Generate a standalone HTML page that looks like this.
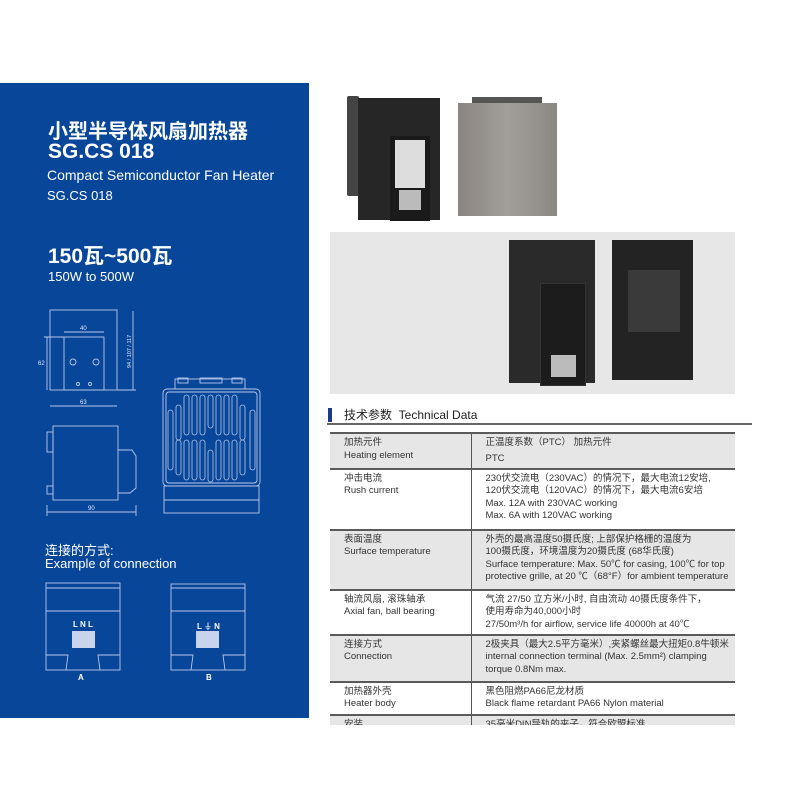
<!DOCTYPE html>
<html><head><meta charset="utf-8"><style>
*{margin:0;padding:0;box-sizing:border-box}
body{width:800px;height:800px;background:#fff;position:relative;overflow:hidden;font-family:"Liberation Sans","Noto Sans CJK SC",sans-serif}
.abs{position:absolute;white-space:nowrap}
#blue{position:absolute;left:0;top:83px;width:309px;height:635px;background:#08469a}
.w{color:#fff}
table{border-collapse:collapse;position:absolute;left:330px;top:432px;width:405px;font-size:9.5px;color:#333;line-height:12.5px}
td{vertical-align:top;padding:3px 0 0 14px;border-top:2px solid #5a5a5a}
td.l{width:141px;border-right:1.5px solid #555}
td.r{padding-left:14px}
tr.g td{background:#e6e6e6}
</style></head><body>
<div id="blue"></div>
<div class="abs w" style="left:48px;top:115px;font-size:20px;font-weight:bold">小型半导体风扇加热器</div>
<div class="abs w" style="left:48px;top:140px;font-size:21px;font-weight:bold">SG.CS 018</div>
<div class="abs w" style="left:47px;top:167px;font-size:14px">Compact Semiconductor Fan Heater</div>
<div class="abs w" style="left:47px;top:188px;font-size:13px">SG.CS 018</div>
<div class="abs w" style="left:48px;top:240px;font-size:21px;font-weight:bold">150瓦~500瓦</div>
<div class="abs w" style="left:48px;top:269px;font-size:13px">150W to 500W</div>
<svg class="abs" style="left:0;top:0" width="310" height="720" viewBox="0 0 310 720" fill="none" stroke="#b8c8e8" stroke-width="0.9">
<rect x="50" y="310" width="67" height="80"/>
<rect x="64" y="337" width="40" height="53"/>
<line x1="64" y1="332" x2="104" y2="332"/><text x="80" y="330" fill="#dfe7f5" stroke="none" font-size="6">40</text>
<line x1="47" y1="337" x2="47" y2="390"/><line x1="44" y1="337" x2="64" y2="337"/><text x="38" y="365" fill="#dfe7f5" stroke="none" font-size="6">62</text>
<line x1="133" y1="311" x2="133" y2="390"/><line x1="117" y1="390" x2="136" y2="390"/>
<text x="0" y="0" fill="#dfe7f5" stroke="none" font-size="5.5" transform="translate(131,368) rotate(-90)">94 / 107 / 117</text>
<line x1="50" y1="406" x2="117" y2="406"/><text x="80" y="404" fill="#dfe7f5" stroke="none" font-size="6">63</text>
<circle cx="73" cy="362" r="3"/><circle cx="96" cy="362" r="3"/><circle cx="78" cy="384" r="1.5"/><circle cx="90" cy="384" r="1.5"/>
<rect x="53" y="426" width="65" height="74"/><rect x="47" y="432" width="6" height="20"/><rect x="47" y="486" width="6" height="8"/>
<path d="M118 450 H132 L136 456 V488 L130 493 H118"/>
<line x1="47" y1="512" x2="136" y2="512"/><line x1="47" y1="505" x2="47" y2="516"/><line x1="136" y1="505" x2="136" y2="516"/>
<text x="88" y="510" fill="#dfe7f5" stroke="none" font-size="6">90</text>
<rect x="163" y="389" width="97" height="97" rx="4"/>
<rect x="166" y="392" width="91" height="91" rx="3"/>
<rect x="175" y="379" width="70" height="10"/><rect x="178" y="378" width="10" height="5"/><rect x="200" y="378" width="22" height="5"/><rect x="232" y="378" width="10" height="5"/>
<rect x="164" y="486" width="95" height="27"/><line x1="164" y1="500" x2="259" y2="500"/>
<g stroke-width="0.8">
<rect x="176" y="405" width="5" height="35" rx="2.5"/><rect x="184" y="395" width="5" height="40" rx="2.5"/><rect x="192" y="395" width="5" height="40" rx="2.5"/><rect x="200" y="395" width="5" height="40" rx="2.5"/><rect x="208" y="395" width="5" height="33" rx="2.5"/><rect x="216" y="395" width="5" height="40" rx="2.5"/><rect x="224" y="395" width="5" height="40" rx="2.5"/><rect x="232" y="395" width="5" height="40" rx="2.5"/><rect x="240" y="405" width="5" height="35" rx="2.5"/><rect x="250" y="410" width="5" height="60" rx="2.5"/><rect x="168" y="410" width="5" height="60" rx="2.5"/>
<rect x="176" y="440" width="5" height="35" rx="2.5"/><rect x="184" y="440" width="5" height="40" rx="2.5"/><rect x="192" y="440" width="5" height="40" rx="2.5"/><rect x="200" y="440" width="5" height="40" rx="2.5"/><rect x="208" y="450" width="5" height="32" rx="2.5"/><rect x="216" y="440" width="5" height="40" rx="2.5"/><rect x="224" y="440" width="5" height="40" rx="2.5"/><rect x="232" y="440" width="5" height="40" rx="2.5"/><rect x="240" y="440" width="5" height="35" rx="2.5"/>
</g>
<rect x="46" y="583" width="74" height="87"/><line x1="46" y1="588" x2="120" y2="588"/><line x1="46" y1="611" x2="120" y2="611"/>
<path d="M46 655 H68 L66 670 M120 655 H98 L100 670"/>
<rect x="171" y="584" width="74" height="86"/><line x1="171" y1="588" x2="245" y2="588"/><line x1="171" y1="611" x2="245" y2="611"/>
<path d="M171 655 H193 L191 670 M245 655 H223 L225 670"/>
<g fill="#c8d4ee" stroke="none"><rect x="72" y="631" width="23" height="17"/><rect x="196" y="631" width="23" height="17"/></g>
</svg>
<div class="abs w" style="left:73px;top:620px;font-size:8px;font-weight:bold">L N L</div>
<div class="abs w" style="left:197px;top:621px;font-size:8px;font-weight:bold">L ⏚ N</div>
<div class="abs w" style="left:78px;top:673px;font-size:8px;font-weight:bold">A</div>
<div class="abs w" style="left:206px;top:673px;font-size:8px;font-weight:bold">B</div>
<div class="abs w" style="left:45px;top:544px;font-size:13px;line-height:13px">连接的方式:<br>Example of connection</div>
<!-- photos -->
<div class="abs" style="left:347px;top:96px;width:12px;height:100px;background:#444;border-radius:2px"></div>
<div class="abs" style="left:358px;top:98px;width:82px;height:122px;background:#262626"></div>
<div class="abs" style="left:390px;top:136px;width:40px;height:85px;background:#1a1a1a"></div>
<div class="abs" style="left:395px;top:140px;width:30px;height:48px;background:#ddd"></div>
<div class="abs" style="left:399px;top:190px;width:22px;height:20px;background:#bbb"></div>
<div class="abs" style="left:472px;top:97px;width:70px;height:8px;background:#555"></div>
<div class="abs" style="left:458px;top:103px;width:99px;height:113px;background:linear-gradient(90deg,#8a8580,#a29e99,#8c8883)"></div>
<div class="abs" style="left:330px;top:232px;width:405px;height:162px;background:#e7e7e7"></div>
<div class="abs" style="left:509px;top:240px;width:86px;height:143px;background:#2a2a2a"></div>
<div class="abs" style="left:540px;top:283px;width:46px;height:103px;background:#1c1c1c;border:1px solid #333"></div>
<div class="abs" style="left:551px;top:355px;width:25px;height:22px;background:#bbb"></div>
<div class="abs" style="left:612px;top:240px;width:81px;height:140px;background:#232323"></div>
<div class="abs" style="left:628px;top:270px;width:52px;height:62px;background:#3a3a3a"></div>
<!-- table -->
<div class="abs" style="left:328px;top:408px;width:4px;height:14px;background:#1d3a8a"></div>
<div class="abs" style="left:344px;top:406px;font-size:12px;color:#222">技术参数 &nbsp;Technical Data</div>
<div class="abs" style="left:327px;top:423px;width:425px;height:1.5px;background:#666"></div>
<div class="abs" style="left:330px;top:432px;width:405px;height:293px;overflow:hidden">
<table style="left:0;top:0">
<tr class="g" style="height:34px"><td class="l">加热元件<br>Heating element</td><td class="r">正温度系数（PTC） 加热元件<br><span style="line-height:18px">PTC</span></td></tr>
<tr style="height:61px"><td class="l">冲击电流<br>Rush current</td><td class="r">230伏交流电（230VAC）的情况下，最大电流12安培,<br>120伏交流电（120VAC）的情况下，最大电流6安培<br>Max. 12A with 230VAC working<br>Max. 6A with 120VAC working</td></tr>
<tr class="g" style="height:60px"><td class="l">表面温度<br>Surface temperature</td><td class="r">外壳的最高温度50摄氏度; 上部保护格栅的温度为<br>100摄氏度，环境温度为20摄氏度 (68华氏度)<br>Surface temperature: Max. 50℃ for casing, 100℃ for top<br>protective grille, at 20 ℃（68°F）for ambient temperature</td></tr>
<tr style="height:45px"><td class="l">轴流风扇, 滚珠轴承<br>Axial fan, ball bearing</td><td class="r">气流 27/50 立方米/小时, 自由流动 40摄氏度条件下，<br>使用寿命为40,000小时<br>27/50m³/h for airflow, service life 40000h at 40℃</td></tr>
<tr class="g" style="height:47px"><td class="l">连接方式<br>Connection</td><td class="r">2极夹具（最大2.5平方毫米）,夹紧螺丝最大扭矩0.8牛顿米<br>internal connection terminal (Max. 2.5mm²) clamping<br>torque 0.8Nm max.</td></tr>
<tr style="height:33px"><td class="l">加热器外壳<br>Heater body</td><td class="r">黑色阻燃PA66尼龙材质<br>Black flame retardant PA66 Nylon material</td></tr>
<tr class="g" style="height:20px"><td class="l">安装</td><td class="r">35毫米DIN导轨的夹子，符合欧盟标准</td></tr>
</table></div>
</body></html>
